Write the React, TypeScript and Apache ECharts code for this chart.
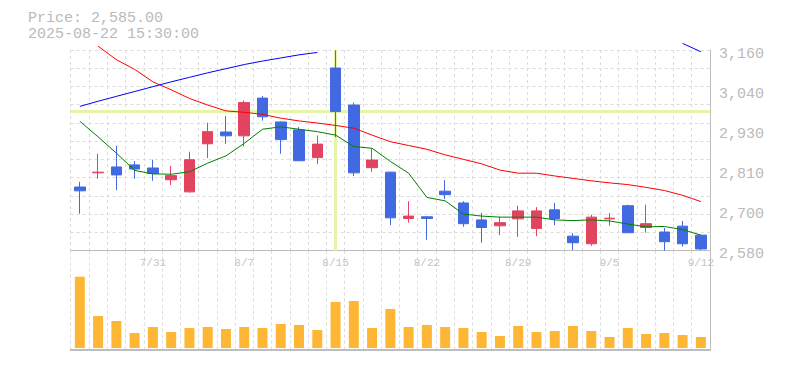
import React, { useEffect, useRef } from 'react';
import * as echarts from 'echarts';

const dates = ['7/25','7/28','7/29','7/30','7/31','8/1','8/4','8/5','8/6','8/7','8/8','8/12','8/13','8/14','8/15','8/18','8/19','8/20','8/21','8/22','8/25','8/26','8/27','8/28','8/29','9/1','9/2','9/3','9/4','9/5','9/8','9/9','9/10','9/11','9/12'];
const opens = [2764,2805,2822,2828,2819,2785,2750,2889,2923,2912,3021,2952,2929,2849,3108,3001,2820,2807,2673,2678,2752,2718,2669,2652,2672,2644,2698,2622,2600,2672,2710,2647,2634,2651,2625];
const closes = [2753,2807,2799,2816,2803,2797,2843,2924,2912,3008,2967,2901,2840,2888,2982,2805,2842,2675,2680,2673,2742,2658,2647,2661,2695,2695,2673,2603,2677,2674,2632,2658,2606,2600,2585];
const lows = [2687,2788,2755,2788,2782,2770,2748,2848,2889,2881,2956,2860,2839,2830,2908,2796,2808,2654,2661,2611,2729,2649,2603,2625,2620,2622,2654,2582,2594,2652,2632,2632,2580,2592,2582];
const highs = [2779,2860,2883,2839,2843,2825,2866,2950,2969,3014,3027,2953,2937,2913,3159,3008,2876,2808,2723,2680,2784,2723,2689,2678,2710,2706,2718,2631,2684,2689,2713,2713,2646,2666,2626];
const volumes = [713,320,270,150,210,160,200,210,190,210,200,240,230,180,460,470,200,390,210,230,210,200,160,120,220,160,170,220,170,110,200,140,150,130,110];
const ma5 = [2954,2909,2862,2812,2802,2801,2808,2833,2854,2890,2931,2938,2931,2924,2914,2881,2876,2838,2804,2734,2724,2686,2680,2677,2677,2677,2669,2667,2669,2666,2657,2649,2650,2641,2625];
const ma25 = [null,3171,3132,3104,3068,3045,3020,3001,2984,2980,2974,2963,2955,2949,2942,2934,2914,2895,2884,2873,2857,2844,2831,2813,2804,2804,2796,2789,2782,2776,2771,2763,2754,2740,2722];
const ma75 = [2997,3012,3026,3040,3054,3068,3081,3094,3106,3118,3128,3137,3146,3153,null,null,null,null,null,null,null,null,null,null,null,null,null,null,null,null,null,null,null,3179,3155];
const priceTickLabels = ['2,580','2,700','2,810','2,930','3,040','3,160'];
const priceMin = 2580;
const priceMax = 3160;
const crosshairDate = '8/15';
const headerTime = '2025-08-22 15:30:00';

export default function App() {
  const ref = useRef<HTMLDivElement>(null);
  useEffect(() => {
    if (!ref.current) return;
    const chart = echarts.init(ref.current, null, { renderer: 'svg' });
    const mono = '"Liberation Mono", "DejaVu Sans Mono", monospace';
    const gridLine = { show: true, lineStyle: { color: '#dcdcdc', width: 1, type: [3, 3] } };
    const axisColor = '#bdbdbd';
    const candleData = dates.map((_, i) => [opens[i], closes[i], lows[i], highs[i]]);
    const crossIdx = dates.indexOf(crosshairDate);
    const lastClose = closes[closes.length - 1];
    const priceText = 'Price: ' + lastClose.toLocaleString('en-US', { minimumFractionDigits: 2, maximumFractionDigits: 2 });
    const option: any = {
      animation: false,
      backgroundColor: '#ffffff',
      textStyle: { fontFamily: mono },
      graphic: [
        { type: 'text', x: 28, y: 18, style: { text: priceText, fill: '#bababa', font: '15px ' + mono, align: 'left', verticalAlign: 'middle', lineHeight: 15 } },
        { type: 'text', x: 28, y: 34, style: { text: headerTime, fill: '#bababa', font: '15px ' + mono, align: 'left', verticalAlign: 'middle', lineHeight: 15 } },
      ],
      grid: [
        { left: 70.7, right: 75, top: 50, height: 200.7 },
        { left: 70.7, right: 75, top: 250.7, height: 99.3 },
      ],
      xAxis: [
        {
          type: 'category', gridIndex: 0, data: dates, boundaryGap: true,
          axisLine: { show: true, onZero: false, lineStyle: { color: axisColor, width: 1 } },
          axisTick: { show: false },
          axisLabel: { interval: (i: number) => (i - 4) % 5 === 0, color: '#c4c4c4', fontSize: 11, fontFamily: mono, margin: 7 },
          splitLine: { ...gridLine, interval: 0 },
        },
        {
          type: 'category', gridIndex: 1, data: dates, boundaryGap: true,
          axisLine: { show: true, onZero: false, lineStyle: { color: axisColor, width: 2 } },
          axisTick: { show: false },
          axisLabel: { show: false },
          splitLine: { ...gridLine, interval: 0 },
        },
      ],
      yAxis: [
        { type: 'value', gridIndex: 0, min: priceMin, max: priceMax, show: false, scale: true },
        {
          type: 'value', gridIndex: 0, position: 'right', min: 0, max: priceTickLabels.length - 1, interval: 1,
          axisLine: { show: true, lineStyle: { color: axisColor, width: 1 } },
          axisTick: { show: false },
          splitLine: { show: false },
          axisLabel: {
            formatter: (v: number) => priceTickLabels[Math.round(v)] ?? '',
            color: '#bababa', fontSize: 15, fontFamily: mono, margin: 9,
            verticalAlign: 'top', lineHeight: 8,
          },
        },
        {
          type: 'value', gridIndex: 0, position: 'left', min: 0, max: 11, interval: 1,
          axisLine: { show: false }, axisTick: { show: false }, axisLabel: { show: false },
          splitLine: gridLine,
        },
        {
          type: 'value', gridIndex: 1, position: 'right', min: -20, max: 973,
          axisLine: { show: true, lineStyle: { color: axisColor, width: 1 } },
          axisTick: { show: false }, axisLabel: { show: false }, splitLine: { show: false },
        },
      ],
      series: [
        {
          type: 'line', name: 'cross', xAxisIndex: 0, yAxisIndex: 0, data: [], z: 1,
          markLine: {
            z: 1, silent: true, symbol: ['none', 'none'], animation: false,
            label: { show: false },
            lineStyle: { color: '#e4f5a6', width: 3, type: 'solid', opacity: 1 },
            emphasis: { disabled: true },
            data: [{ xAxis: crosshairDate }, { yAxis: closes[crossIdx] }],
          },
        },
        {
          type: 'candlestick', name: 'price', xAxisIndex: 0, yAxisIndex: 0, z: 10,
          data: candleData, barWidth: 11,
          itemStyle: { color: '#e2445f', color0: '#4169e1', borderColor: '#e2445f', borderColor0: '#4169e1', borderWidth: 1 },
        },
        {
          type: 'line', name: 'MA5', xAxisIndex: 0, yAxisIndex: 0, data: ma5, z: 11, clip: false,
          showSymbol: false, symbol: 'none', lineStyle: { color: '#008000', width: 1 },
        },
        {
          type: 'line', name: 'MA25', xAxisIndex: 0, yAxisIndex: 0, data: ma25, z: 11, clip: false,
          showSymbol: false, symbol: 'none', lineStyle: { color: '#ff0000', width: 1 },
        },
        {
          type: 'line', name: 'MA75', xAxisIndex: 0, yAxisIndex: 0, data: ma75, z: 11, clip: false,
          showSymbol: false, symbol: 'none', connectNulls: false, lineStyle: { color: '#0000ff', width: 1 },
        },
        {
          type: 'bar', name: 'volume', xAxisIndex: 1, yAxisIndex: 3, data: volumes, barWidth: 10,
          itemStyle: { color: '#fdb734' },
        },
      ],
    };
    chart.setOption(option);
    return () => chart.dispose();
  }, []);
  return <div ref={ref} style={{ position: 'absolute', left: 0, top: 0, width: 785, height: 370 }} />;
}
